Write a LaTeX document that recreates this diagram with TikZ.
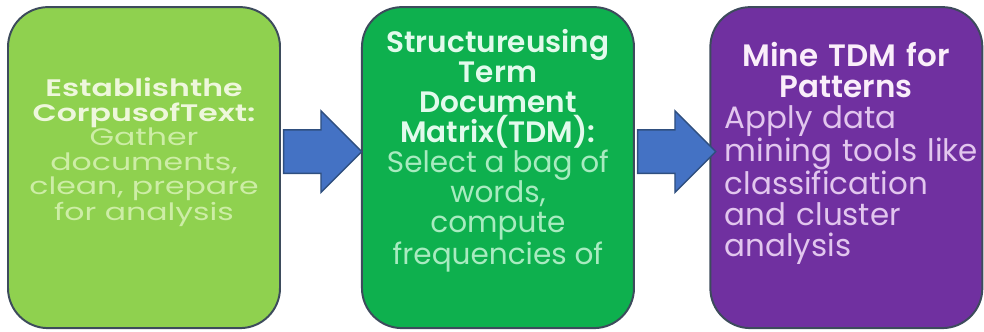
\documentclass[tikz,border=0pt]{standalone}
\usepackage{fontspec}
\setmainfont{Poppins}[BoldFont={Poppins SemiBold}]
\newfontfamily\widefont{Poppins}[FakeStretch=1.32, BoldFont={Poppins SemiBold}]
\usepackage{tikz}
\usetikzlibrary{positioning,shapes.arrows,calc}
\definecolor{cgreen}{HTML}{8FD14F}
\definecolor{cgreenhd}{HTML}{EEF7DC}
\definecolor{cgreentx}{HTML}{CDEDA6}
\definecolor{tgreen}{HTML}{0EB04E}
\definecolor{tgreenhd}{HTML}{E2FAEC}
\definecolor{tgreentx}{HTML}{A8EBC0}
\definecolor{mpurple}{HTML}{7030A0}
\definecolor{mpurplehd}{HTML}{FAEEFA}
\definecolor{mpurpletx}{HTML}{E2C6EE}
\definecolor{boxline}{HTML}{3D4B5C}
\definecolor{arrblue}{HTML}{4472C4}
\definecolor{arrline}{HTML}{2F4F7F}
\newcommand{\stephead}[2]{\textcolor{#1}{\bfseries #2}}

\begin{document}
\begin{tikzpicture}[
  box/.style={rectangle, rounded corners=1cm, draw=boxline, line width=1.4pt,
    minimum width=6.8cm, minimum height=8.025cm, inner sep=0pt},
  txt/.style={align=center, inner sep=0pt},
  barrow/.style={single arrow, draw=arrline, fill=arrblue, line width=1pt,
    minimum height=1.95cm, minimum width=2cm, single arrow head extend=0.475cm,
    single arrow tip angle=90, inner xsep=0pt, inner ysep=0.525cm, anchor=tail}
]
\useasboundingbox (0,0) rectangle (24.6,-8.275);

% the three steps
\node[box, fill=cgreen] (corpus) at (3.6,-4.19) {};
\node[box, fill=tgreen, right=2cm of corpus] (tdm) {};
\node[box, fill=mpurple, right=1.86cm of tdm] (mine) {};

% block arrows between the steps
\node[barrow] (a1) at ($(corpus.east)+(0.05,0.4)$) {};
\node[barrow] (a2) at ($(tdm.east)+(0.05,0.4)$) {};

% step texts
\node[txt, text=cgreentx, font=\widefont\fontsize{17pt}{17.4pt}\selectfont] (corpus-txt)
  at ($(corpus.center)+(0,0.38)$)
  {\stephead{cgreenhd}{Establishthe}\\\stephead{cgreenhd}{CorpusofText:}\\
   Gather\\documents,\\clean, prepare\\for analysis};
\node[txt, text=tgreentx, font=\fontsize{21pt}{21.3pt}\selectfont] (tdm-txt)
  at ($(tdm.center)+(0,0.42)$)
  {\stephead{tgreenhd}{Structureusing}\\\stephead{tgreenhd}{Term}\\
   \stephead{tgreenhd}{Document}\\\stephead{tgreenhd}{Matrix(TDM):}\\
   Select a bag of\\words,\\compute\\frequencies of};
\node[txt, align=left, text width=6.4cm, text=mpurpletx,
  font=\fontsize{22pt}{22pt}\selectfont] (mine-txt) at ($(mine.center)+(0.16,0.36)$)
  {\makebox[\dimexpr\linewidth-0.33cm\relax]{\stephead{mpurplehd}{Mine TDM for}}\\
   \makebox[\dimexpr\linewidth-0.33cm\relax]{\stephead{mpurplehd}{Patterns}}\\
   Apply data\\mining tools like\\classification\\and cluster\\analysis};
\end{tikzpicture}
\end{document}
